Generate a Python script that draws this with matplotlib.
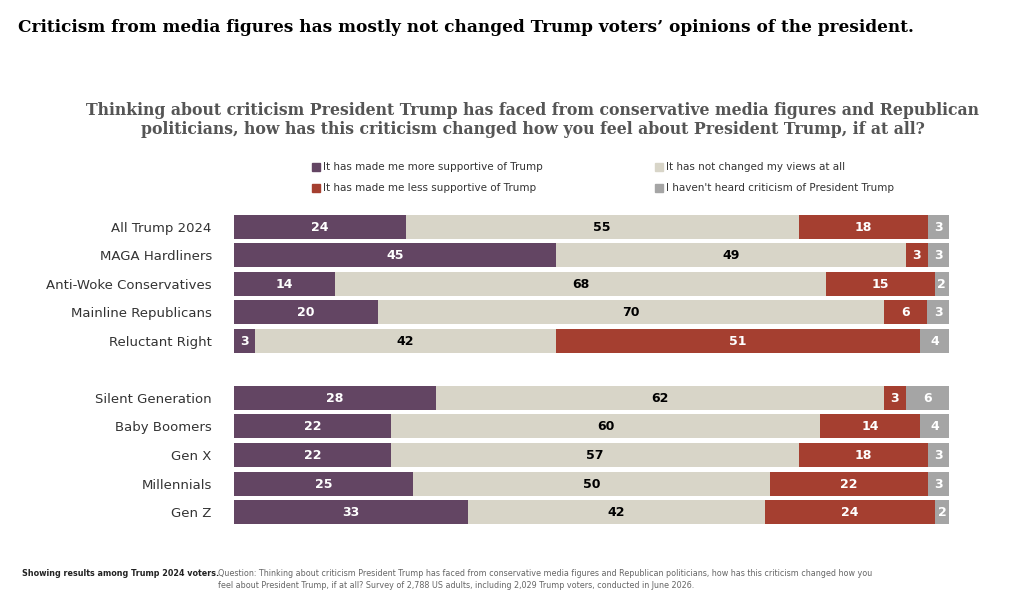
import numpy as np
import matplotlib.pyplot as plt
from matplotlib.patches import Rectangle

groups = ["All Trump 2024", "MAGA Hardliners", "Anti-Woke Conservatives", "Mainline Republicans",
          "Reluctant Right", "Silent Generation", "Baby Boomers", "Gen X", "Millennials", "Gen Z"]
more = [24, 45, 14, 20, 3, 28, 22, 22, 25, 33]
same = [55, 49, 68, 70, 42, 62, 60, 57, 50, 42]
less = [18, 3, 15, 6, 51, 3, 14, 18, 22, 24]
noheard = [3, 3, 2, 3, 4, 6, 4, 3, 3, 2]
series = ["It has made me more supportive of Trump", "It has not changed my views at all",
          "It has made me less supportive of Trump", "I haven't heard criticism of President Trump"]
colors = ["#634563", "#d8d5c8", "#a53f30", "#a5a5a5"]
textcol = ["white", "black", "white", "white"]

W, H = 1024, 597
fig = plt.figure(figsize=(W / 100, H / 100), dpi=100)
ax = fig.add_axes([234 / W, 1 - 530 / H, (949 - 234) / W, (530 - 212) / H])

ypos = np.array([227, 255, 284, 312, 341, 398, 426, 455, 484, 512], dtype=float)
data = np.array([more, same, less, noheard], dtype=float)
totals = data.sum(axis=0)
left = np.zeros(len(groups))
for vals, c, tc, name in zip(data, colors, textcol, series):
    share = vals / totals * 100
    ax.barh(ypos, share, left=left, height=24, color=c, label=name)
    for y, l, v, s in zip(ypos, left, vals, share):
        ax.text(l + s / 2, y, f"{int(v)}", ha="center", va="center", color=tc,
                fontsize=9, fontweight="bold")
    left += share
ax.set_xlim(0, 100)
ax.set_ylim(530, 212)
ax.set_yticks(ypos)
ax.set_yticklabels(groups, fontsize=9.5, color="#333333")
ax.tick_params(axis="y", length=0, pad=16)
ax.set_xticks([])
for s in ax.spines.values():
    s.set_visible(False)

fig.text(18 / W, 1 - 27 / H, "Criticism from media figures has mostly not changed Trump voters\u2019 opinions of the president.",
         fontsize=12.2, fontweight="bold", family="DejaVu Serif", va="center")
fig.text(533 / W, 1 - 120 / H, "Thinking about criticism President Trump has faced from conservative media figures and Republican\npoliticians, how has this criticism changed how you feel about President Trump, if at all?",
         fontsize=11.3, fontweight="bold", family="DejaVu Serif", color="#555555", ha="center", va="center",
         linespacing=1.2)

legpos = [(312, 167), (655, 167), (312, 188), (655, 188)]
for (lx, ly), c, name in zip(legpos, colors, series):
    fig.patches.append(Rectangle((lx / W, 1 - (ly + 4) / H), 8 / W, 8 / H, color=c,
                                 transform=fig.transFigure))
    fig.text((lx + 11) / W, 1 - ly / H, name, fontsize=7.5, va="center", color="#333333")

fig.text(22 / W, 1 - 574 / H, "Showing results among Trump 2024 voters.", fontsize=5.8, fontweight="bold",
         va="center", color="#222222")
fig.text(218 / W, 1 - 574 / H, "Question: Thinking about criticism President Trump has faced from conservative media figures and Republican politicians, how has this criticism changed how you",
         fontsize=5.8, va="center", color="#666666")
fig.text(218 / W, 1 - 585 / H, "feel about President Trump, if at all? Survey of 2,788 US adults, including 2,029 Trump voters, conducted in June 2026.",
         fontsize=5.8, va="center", color="#666666")

fig.savefig("out.png", dpi=100, facecolor="white")
